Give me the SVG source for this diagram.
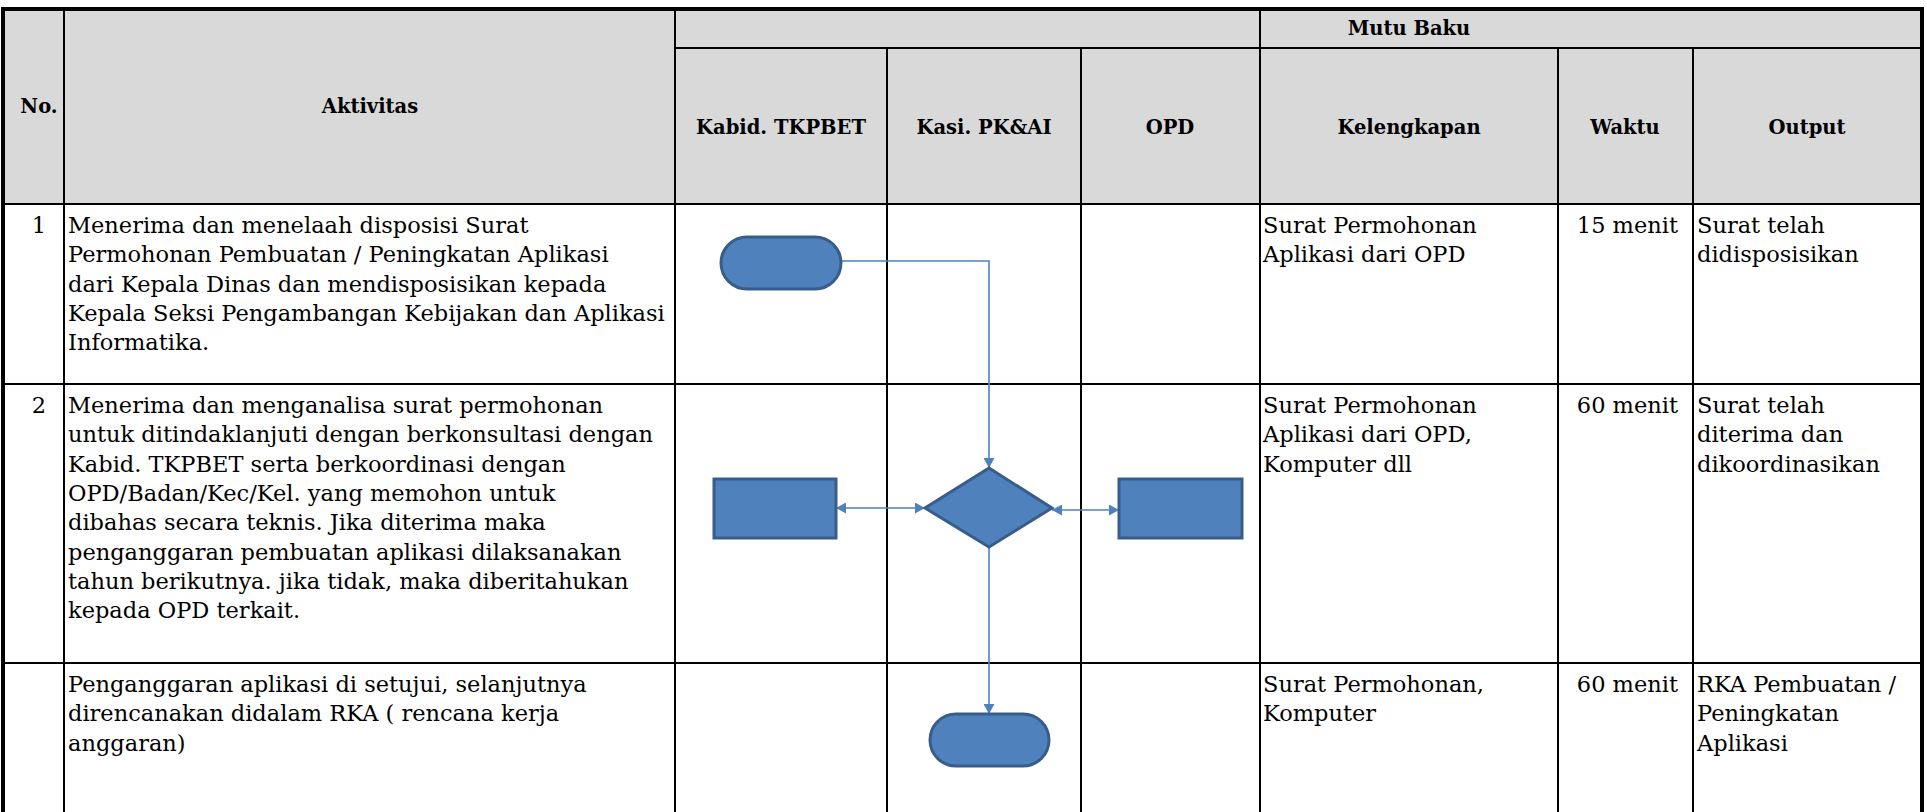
<svg xmlns="http://www.w3.org/2000/svg" width="1927" height="812" viewBox="0 0 1927 812">
<style>
.hdr{font-family:"DejaVu Serif","Liberation Serif",serif;font-weight:bold;font-size:19.5px;text-anchor:middle;fill:#000}
.txt{font-family:"DejaVu Serif","Liberation Serif",serif;font-size:22.5px;fill:#000}
.wkt{text-anchor:end}
.grid{stroke:#000;stroke-width:2;fill:none}
.border{stroke:#000;stroke-width:4;fill:none}
.shape{fill:#4f81bd;stroke:#385d8a;stroke-width:3}
.conn{stroke:#4f81bd;stroke-width:1.6;fill:none}
</style>
<defs>
<marker id="ah" viewBox="0 0 10 11" refX="10" refY="5.5" markerWidth="10" markerHeight="11" markerUnits="userSpaceOnUse" orient="auto-start-reverse">
<path d="M0,0 L10,5.5 L0,11 z" fill="#4f81bd"/>
</marker>
</defs>
<rect x="0" y="0" width="1927" height="812" fill="#fff"/>
<g id="table">
<rect x="3" y="9" width="1919" height="195" fill="#d9d9d9"/>
<line class="grid" x1="675" y1="48" x2="1922" y2="48"/>
<line class="grid" x1="3" y1="204" x2="1922" y2="204"/>
<line class="grid" x1="3" y1="384" x2="1922" y2="384"/>
<line class="grid" x1="3" y1="663" x2="1922" y2="663"/>
<line class="grid" x1="64" y1="9" x2="64" y2="812"/>
<line class="grid" x1="675" y1="9" x2="675" y2="812"/>
<line class="grid" x1="887" y1="48" x2="887" y2="812"/>
<line class="grid" x1="1081" y1="48" x2="1081" y2="812"/>
<line class="grid" x1="1260" y1="9" x2="1260" y2="812"/>
<line class="grid" x1="1558" y1="48" x2="1558" y2="812"/>
<line class="grid" x1="1693" y1="48" x2="1693" y2="812"/>
<path class="border" d="M3,812 L3,9 L1922,9 L1922,812"/>
</g>
<g id="headers">
<text class="hdr" x="39" y="113">No.</text>
<text class="hdr" x="370" y="113">Aktivitas</text>
<text class="hdr" x="1409" y="35">Mutu Baku</text>
<text class="hdr" x="781" y="134">Kabid. TKPBET</text>
<text class="hdr" x="984" y="134">Kasi. PK&amp;AI</text>
<text class="hdr" x="1170" y="134">OPD</text>
<text class="hdr" x="1409" y="134">Kelengkapan</text>
<text class="hdr" x="1625" y="134">Waktu</text>
<text class="hdr" x="1807" y="134">Output</text>
</g>
<g id="row1">
<text class="txt" x="39" y="233" text-anchor="middle">1</text>
<text class="txt" x="68" y="233">Menerima dan menelaah disposisi Surat</text>
<text class="txt" x="68" y="262.3">Permohonan Pembuatan / Peningkatan Aplikasi</text>
<text class="txt" x="68" y="291.6">dari Kepala Dinas dan mendisposisikan kepada</text>
<text class="txt" x="68" y="320.9">Kepala Seksi Pengambangan Kebijakan dan Aplikasi</text>
<text class="txt" x="68" y="350.2">Informatika.</text>
<text class="txt" x="1263" y="233">Surat Permohonan</text>
<text class="txt" x="1263" y="262.3">Aplikasi dari OPD</text>
<text class="txt wkt" x="1678" y="233">15 menit</text>
<text class="txt" x="1697" y="233">Surat telah</text>
<text class="txt" x="1697" y="262.3">didisposisikan</text>
</g>
<g id="row2">
<text class="txt" x="39" y="413" text-anchor="middle">2</text>
<text class="txt" x="68" y="413">Menerima dan menganalisa surat permohonan</text>
<text class="txt" x="68" y="442.3">untuk ditindaklanjuti dengan berkonsultasi dengan</text>
<text class="txt" x="68" y="471.6">Kabid. TKPBET serta berkoordinasi dengan</text>
<text class="txt" x="68" y="500.9">OPD/Badan/Kec/Kel. yang memohon untuk</text>
<text class="txt" x="68" y="530.2">dibahas secara teknis. Jika diterima maka</text>
<text class="txt" x="68" y="559.5">penganggaran pembuatan aplikasi dilaksanakan</text>
<text class="txt" x="68" y="588.8">tahun berikutnya. jika tidak, maka diberitahukan</text>
<text class="txt" x="68" y="618.1">kepada OPD terkait.</text>
<text class="txt" x="1263" y="413">Surat Permohonan</text>
<text class="txt" x="1263" y="442.3">Aplikasi dari OPD,</text>
<text class="txt" x="1263" y="471.6">Komputer dll</text>
<text class="txt wkt" x="1678" y="413">60 menit</text>
<text class="txt" x="1697" y="413">Surat telah</text>
<text class="txt" x="1697" y="442.3">diterima dan</text>
<text class="txt" x="1697" y="471.6">dikoordinasikan</text>
</g>
<g id="row3">
<text class="txt" x="68" y="692">Penganggaran aplikasi di setujui, selanjutnya</text>
<text class="txt" x="68" y="721.3">direncanakan didalam RKA ( rencana kerja</text>
<text class="txt" x="68" y="750.6">anggaran)</text>
<text class="txt" x="1263" y="692">Surat Permohonan,</text>
<text class="txt" x="1263" y="721.3">Komputer</text>
<text class="txt wkt" x="1678" y="692">60 menit</text>
<text class="txt" x="1697" y="692">RKA Pembuatan /</text>
<text class="txt" x="1697" y="721.3">Peningkatan</text>
<text class="txt" x="1697" y="750.6">Aplikasi</text>
</g>
<g id="connectors">
<path class="conn" d="M841,261 L989,261 L989,468" marker-end="url(#ah)"/>
<path class="conn" d="M836,508 L925,508" marker-start="url(#ah)" marker-end="url(#ah)"/>
<path class="conn" d="M1052,510 L1119,510" marker-start="url(#ah)" marker-end="url(#ah)"/>
<path class="conn" d="M989,547 L989,714" marker-end="url(#ah)"/>
</g>
<g id="start">
<rect class="shape" x="721" y="237" width="120" height="52" rx="26" ry="26"/>
</g>
<g id="process-kabid">
<rect class="shape" x="714" y="479" width="122" height="59"/>
</g>
<g id="decision">
<polygon class="shape" points="989,468 1052,508 989,547 925,508"/>
</g>
<g id="process-opd">
<rect class="shape" x="1119" y="479" width="123" height="59"/>
</g>
<g id="end">
<rect class="shape" x="930" y="714" width="119" height="52" rx="26" ry="26"/>
</g>
</svg>
